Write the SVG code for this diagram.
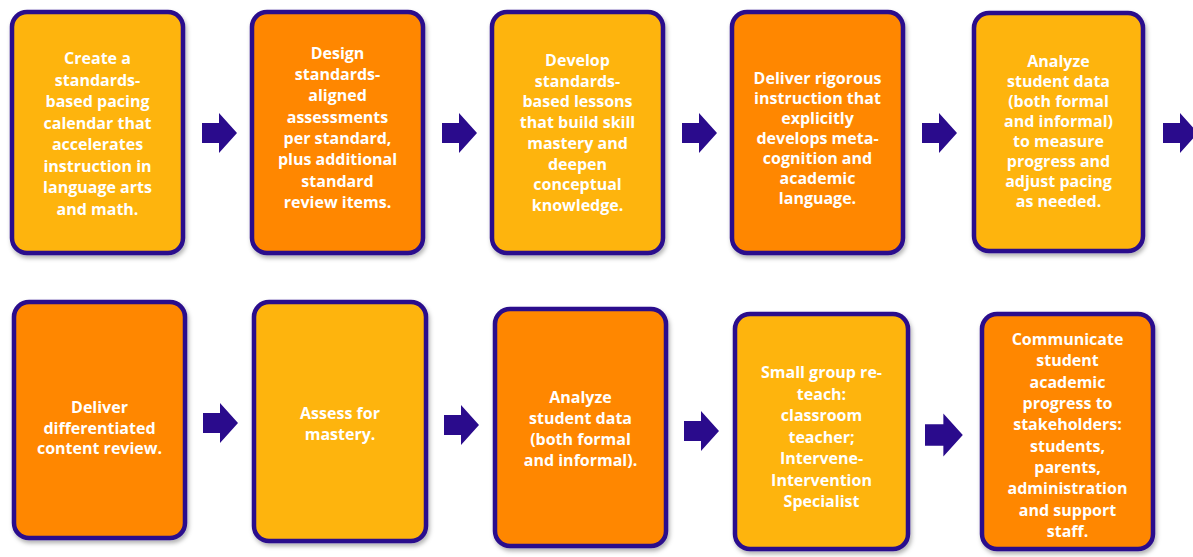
<svg xmlns="http://www.w3.org/2000/svg" width="1193" height="557" viewBox="0 0 1193 557">
<style>
.box{stroke:#2A0B8C;stroke-width:4.5;filter:url(#sh)}
.y{fill:#FEB40E}
.o{fill:#FF8700}
.t{font-family:"Open Sans","Liberation Sans",sans-serif;font-weight:bold;font-size:16px;fill:#FFFFFF;text-anchor:middle}
.arr{fill:#2A0B8C}
</style>
<defs>
<filter id="sh" x="-10%" y="-10%" width="125%" height="125%">
<feDropShadow dx="1.5" dy="3" stdDeviation="2" flood-color="#000" flood-opacity="0.3"/>
</filter>
<path id="arrow" d="M0,-10 H17 V-20 L35,0 L17,20 V10 H0 Z"/>
</defs>
<rect width="1193" height="557" fill="#FFFFFF"/>

<g id="n1"><rect class="box y" x="12" y="12" width="171" height="241" rx="15"/>
<text class="t"><tspan x="97.5" y="64">Create a</tspan><tspan x="97.5" y="85.5">standards-</tspan><tspan x="97.5" y="107">based pacing</tspan><tspan x="97.5" y="128.5">calendar that</tspan><tspan x="97.5" y="150">accelerates</tspan><tspan x="97.5" y="171.5">instruction in</tspan><tspan x="97.5" y="193">language arts</tspan><tspan x="97.5" y="214.5">and math.</tspan></text></g>

<g id="n2"><rect class="box o" x="252" y="12" width="171" height="241" rx="15"/>
<text class="t"><tspan x="337.5" y="59">Design</tspan><tspan x="337.5" y="80">standards-</tspan><tspan x="337.5" y="101">aligned</tspan><tspan x="337.5" y="123">assessments</tspan><tspan x="337.5" y="144">per standard,</tspan><tspan x="337.5" y="165">plus additional</tspan><tspan x="337.5" y="187">standard</tspan><tspan x="337.5" y="208">review items.</tspan></text></g>

<g id="n3"><rect class="box y" x="492" y="12" width="171" height="241" rx="15"/>
<text class="t"><tspan x="577.5" y="66">Develop</tspan><tspan x="577.5" y="87">standards-</tspan><tspan x="577.5" y="107">based lessons</tspan><tspan x="577.5" y="128">that build skill</tspan><tspan x="577.5" y="149">mastery and</tspan><tspan x="577.5" y="170">deepen</tspan><tspan x="577.5" y="190">conceptual</tspan><tspan x="577.5" y="211">knowledge.</tspan></text></g>

<g id="n4"><rect class="box o" x="732" y="12" width="171" height="241" rx="15"/>
<text class="t"><tspan x="817.5" y="84">Deliver rigorous</tspan><tspan x="817.5" y="104">instruction that</tspan><tspan x="817.5" y="124">explicitly</tspan><tspan x="817.5" y="144">develops meta-</tspan><tspan x="817.5" y="164">cognition and</tspan><tspan x="817.5" y="184">academic</tspan><tspan x="817.5" y="204">language.</tspan></text></g>

<g id="n5"><rect class="box y" x="974" y="13" width="169" height="238" rx="15"/>
<text class="t"><tspan x="1058.5" y="67">Analyze</tspan><tspan x="1058.5" y="87">student data</tspan><tspan x="1058.5" y="107">(both formal</tspan><tspan x="1058.5" y="127">and informal)</tspan><tspan x="1058.5" y="147">to measure</tspan><tspan x="1058.5" y="167">progress and</tspan><tspan x="1058.5" y="187">adjust pacing</tspan><tspan x="1058.5" y="207">as needed.</tspan></text></g>

<g id="n6"><rect class="box o" x="14" y="302" width="171" height="236" rx="15"/>
<text class="t"><tspan x="99.5" y="413">Deliver</tspan><tspan x="99.5" y="433.5">differentiated</tspan><tspan x="99.5" y="454">content review.</tspan></text></g>

<g id="n7"><rect class="box y" x="254" y="302" width="172" height="239" rx="15"/>
<text class="t"><tspan x="340" y="419">Assess for</tspan><tspan x="340" y="439.5">mastery.</tspan></text></g>

<g id="n8"><rect class="box o" x="495" y="309" width="171" height="237" rx="15"/>
<text class="t"><tspan x="580.5" y="403">Analyze</tspan><tspan x="580.5" y="424">student data</tspan><tspan x="580.5" y="445">(both formal</tspan><tspan x="580.5" y="466">and informal).</tspan></text></g>

<g id="n9"><rect class="box y" x="735" y="314" width="173" height="235" rx="15"/>
<text class="t"><tspan x="821.5" y="378">Small group re-</tspan><tspan x="821.5" y="399.5">teach:</tspan><tspan x="821.5" y="421">classroom</tspan><tspan x="821.5" y="442.5">teacher;</tspan><tspan x="821.5" y="464">Intervene-</tspan><tspan x="821.5" y="485.5">Intervention</tspan><tspan x="821.5" y="507">Specialist</tspan></text></g>

<g id="n10"><rect class="box o" x="982" y="314" width="171" height="235" rx="15"/>
<text class="t"><tspan x="1067.5" y="345">Communicate</tspan><tspan x="1067.5" y="366">student</tspan><tspan x="1067.5" y="388">academic</tspan><tspan x="1067.5" y="409">progress to</tspan><tspan x="1067.5" y="430">stakeholders:</tspan><tspan x="1067.5" y="452">students,</tspan><tspan x="1067.5" y="473">parents,</tspan><tspan x="1067.5" y="494">administration</tspan><tspan x="1067.5" y="516">and support</tspan><tspan x="1067.5" y="537">staff.</tspan></text></g>

<g id="connectors" class="arr">
<use href="#arrow" transform="translate(202,133)"/>
<use href="#arrow" transform="translate(442,133)"/>
<use href="#arrow" transform="translate(682,133)"/>
<use href="#arrow" transform="translate(922,133)"/>
<use href="#arrow" transform="translate(1163,133)"/>
<use href="#arrow" transform="translate(203,423)"/>
<use href="#arrow" transform="translate(444,425)"/>
<use href="#arrow" transform="translate(684,431)"/>
<use href="#arrow" transform="translate(925,435) scale(1.08)"/>
</g>
</svg>
